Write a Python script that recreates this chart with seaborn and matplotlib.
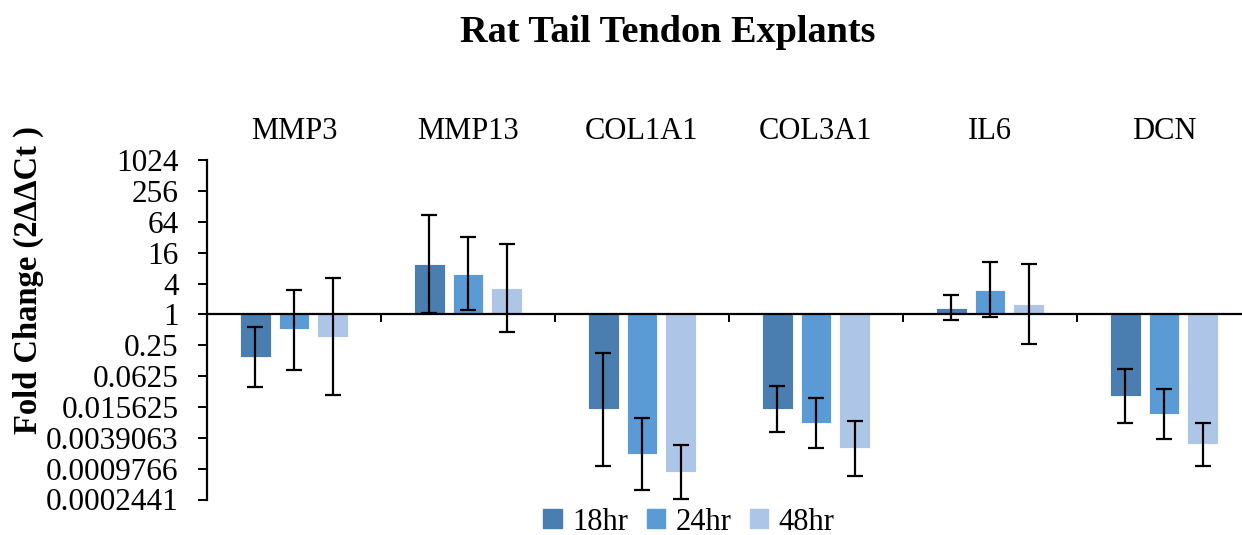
import numpy as np
import pandas as pd
import matplotlib
matplotlib.use("Agg")
import matplotlib.pyplot as plt
import seaborn as sns
from decimal import Decimal, ROUND_HALF_UP
from matplotlib.ticker import FixedLocator, FuncFormatter

# ---------------- data (fold change, 2^-ΔΔCt) ----------------
genes = ["MMP3", "MMP13", "COL1A1", "COL3A1", "IL6", "DCN"]
timepoints = ["18hr", "24hr", "48hr"]

fold_18hr = [0.151, 9.5, 0.0143, 0.0143, 1.31, 0.0252]
fold_24hr = [0.51, 6.3, 0.00191, 0.00761, 3.07, 0.0113]
fold_48hr = [0.366, 3.27, 0.000858, 0.00244, 1.59, 0.0030]

err_low_18hr = [0.039, 1.06, 0.00111, 0.0051, 0.763, 0.0075]
err_high_18hr = [0.559, 87.4, 0.178, 0.0396, 2.38, 0.0854]
err_low_24hr = [0.0825, 1.21, 0.000381, 0.00244, 0.90, 0.00364]
err_high_24hr = [3.07, 32.4, 0.00956, 0.0238, 10.6, 0.0347]
err_low_48hr = [0.0265, 0.457, 0.000249, 0.000715, 0.266, 0.00110]
err_high_48hr = [5.13, 23.9, 0.00288, 0.0082, 9.65, 0.00777]

ytick_exponents = list(range(-12, 11, 2))

colors = ["#4A7EB0", "#5B9BD5", "#ADC6E7"]

# ---------------- build table ----------------
folds = [fold_18hr, fold_24hr, fold_48hr]
lows = [err_low_18hr, err_low_24hr, err_low_48hr]
highs = [err_high_18hr, err_high_24hr, err_high_48hr]
rows = []
for t, f in zip(timepoints, folds):
    for g, v in zip(genes, f):
        rows.append({"gene": g, "time": t, "log2fold": np.log2(v)})
df = pd.DataFrame(rows)

# ---------------- figure ----------------
sns.set_theme(style="white")
plt.rcParams["font.family"] = ["Liberation Serif", "DejaVu Serif"]
for k in ["text.color", "axes.labelcolor", "xtick.color", "ytick.color", "axes.edgecolor"]:
    plt.rcParams[k] = "black"

W, H = 1242, 535
fig = plt.figure(figsize=(W / 100, H / 100), dpi=100)
ax_left, ax_right = 207, 1251
ax_top, ax_bottom = 160.3, 499.5
ax = fig.add_axes([ax_left / W, 1 - ax_bottom / H, (ax_right - ax_left) / W, (ax_bottom - ax_top) / H])

sns.barplot(data=df, x="gene", y="log2fold", hue="time", order=genes,
            hue_order=timepoints, palette=colors, saturation=1, width=0.664, gap=0.22,
            errorbar=None, ax=ax, legend=False, edgecolor="white", linewidth=0.6)

# error bars
for cont, lo, hi in zip(ax.containers, lows, highs):
    for bar, l, h in zip(cont, lo, hi):
        xc = bar.get_x() + bar.get_width() / 2
        val = bar.get_height() if bar.get_y() == 0 else bar.get_y()
        ax.errorbar(xc, val, yerr=[[val - np.log2(l)], [np.log2(h) - val]],
                    fmt="none", ecolor="black", elinewidth=1.6, capsize=5.5,
                    capthick=1.6, zorder=5)

# axes styling
ax.set_xlim(-0.5, 5.5)
ax.set_ylim(-12, 10)
ax.set_xlabel("")
ax.set_ylabel("")
for s in ["top", "right"]:
    ax.spines[s].set_visible(False)
ax.spines["bottom"].set_position(("data", 0))
ax.spines["bottom"].set_linewidth(1.6)
ax.spines["left"].set_linewidth(1.6)

ax.yaxis.set_major_locator(FixedLocator(ytick_exponents))


def fmt(y, pos):
    v = 2.0 ** float(y)
    if v >= 1:
        return f"{int(round(v))}"
    d = Decimal(float(v)).quantize(Decimal("0.0000001"), rounding=ROUND_HALF_UP)
    return format(d, "f").rstrip("0").rstrip(".")


ax.yaxis.set_major_formatter(FuncFormatter(fmt))
ax.tick_params(axis="y", which="major", direction="out", length=6.5, width=1.4,
               labelsize=22.5, pad=14, left=True)

# x: major ticks at category boundaries (no labels), minor at centres with labels on top
ax.xaxis.set_major_locator(FixedLocator(np.arange(0.5, 5.0, 1.0)))
ax.xaxis.set_major_formatter(FuncFormatter(lambda x, p: ""))
ax.xaxis.set_minor_locator(FixedLocator(np.arange(0, 6)))
ax.xaxis.set_minor_formatter(FuncFormatter(lambda x, p: genes[int(round(x))] if 0 <= round(x) < len(genes) else ""))
ax.tick_params(axis="x", which="major", direction="out", length=6, width=1.4,
               bottom=True, top=False, labelbottom=False)
ax.tick_params(axis="x", which="minor", length=0, bottom=False, top=True,
               labelbottom=False, labeltop=True, labelsize=22, pad=10)

# titles
fig.text(668 / W, 1 - 33 / H, "Rat Tail Tendon Explants", ha="center", va="center",
         fontsize=27.5, fontweight="bold")
fig.text(28 / W, 1 - 280 / H, "Fold Change (2ΔΔCt )", ha="center", va="center",
         rotation=90, fontsize=23.5, fontweight="bold")

# legend
handles = [plt.Rectangle((0, 0), 1, 1, color=c) for c in colors]
fig.legend(handles, timepoints, loc="center", bbox_to_anchor=(689 / W, 1 - 522 / H),
           ncol=3, frameon=False, fontsize=22, handlelength=0.6, handleheight=0.6,
           handletextpad=0.35, columnspacing=0.6, borderaxespad=0)

fig.savefig("out.png", dpi=100)
